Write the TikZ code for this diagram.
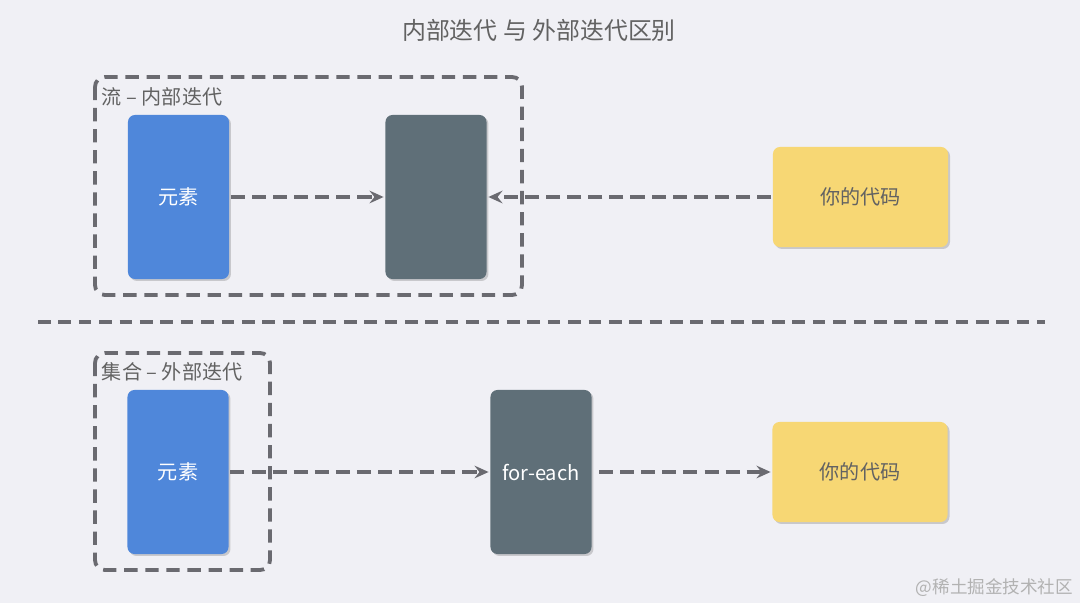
\documentclass[tikz,border=0pt]{standalone}
\usepackage{fontspec}
\setmainfont{Noto Sans CJK SC}
\usetikzlibrary{arrows.meta,shadows}
\definecolor{bgc}{HTML}{F0F0F5}
\definecolor{eltblue}{HTML}{4F87DA}
\definecolor{slate}{HTML}{5F6F78}
\definecolor{codeyel}{HTML}{F7D774}
\definecolor{dashgray}{HTML}{6A6A70}
\definecolor{txtgray}{HTML}{626262}

\begin{document}
\begin{tikzpicture}[x=0.025cm, y=-0.025cm, line width=2.7pt,
  box/.style={rounded corners=5pt, inner sep=0pt, font=\fontsize{14.3}{17}\selectfont,
    drop shadow={shadow xshift=1.4pt, shadow yshift=-1.4pt, opacity=0.35}},
  tall/.style={box, minimum width=2.525cm, minimum height=4.1cm, text=white},
  wide/.style={box, minimum width=4.375cm, minimum height=2.5cm, fill=codeyel, text=txtgray},
  group/.style={draw=dashgray, dash pattern=on 9.5pt off 5.5pt, rounded corners=7pt},
  grouplabel/.style={anchor=west, inner sep=0pt, text=txtgray, font=\fontsize{14.3}{17}\selectfont},
  flow/.style={draw=dashgray, dash pattern=on 10pt off 5pt, -{Stealth[length=10pt,width=9pt,inset=3.5pt]}}]
		\fill[bgc] (0,0) rectangle (1080,603);
		\node (TTL) at (539,30) [text=txtgray, font=\fontsize{17}{20}\selectfont] {内部迭代 与 外部迭代区别};

		\draw[group] (95,77) rectangle (522,295);
		\node (LBL1) at (100,97) [grouplabel] {流 – 内部迭代};
		\node (ELT1) at (178.5,197) [tall, fill=eltblue] {元素};
		\node (STR) at (436,197) [tall, fill=slate] {};
		\node (CODE1) at (860.5,197) [wide] {你的代码};
		\draw[flow] (ELT1) -- (STR);
		\draw[flow] (CODE1) -- (STR);

		\draw[dashgray, dash pattern=on 9pt off 5.5pt] (38,322) -- (1045,322);

		\draw[group] (95,353) rectangle (270,570);
		\node (LBL2) at (100,372) [grouplabel] {集合 – 外部迭代};
		\node (ELT2) at (178,472) [tall, fill=eltblue] {元素};
		\node (FOR) at (541,472) [tall, fill=slate] {for-each};
		\node (CODE2) at (860,472) [wide] {你的代码};
		\draw[flow] (ELT2) -- (FOR);
		\draw[flow, shorten <=4pt] (FOR) -- (CODE2);

		\node (WM) at (1075,588) [anchor=east, inner sep=0pt, text=black!30, font=\fontsize{12.5}{15}\selectfont] {@稀土掘金技术社区};
\end{tikzpicture}
\end{document}
